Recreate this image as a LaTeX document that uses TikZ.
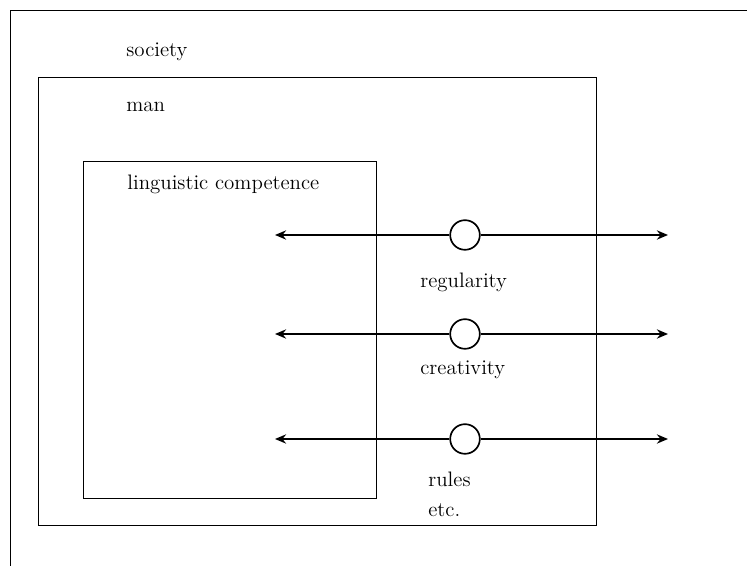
\documentclass[tikz,border=0pt]{standalone}
\usetikzlibrary{arrows.meta}
\begin{document}
\begin{tikzpicture}[x=0.54pt,y=-0.54pt,
  frame/.style={draw,line width=0.5pt},
  lbl/.style={anchor=base west,inner sep=0pt,font=\fontsize{11.3}{13}\selectfont},
  flow/.style={line width=0.9pt,-{Stealth[length=6pt,width=5pt]}},
  knot/.style={draw,circle,line width=0.9pt,inner sep=0pt,minimum size=16pt}]
  \useasboundingbox (0,0) rectangle (747,566);
  % society frame (runs past the page)
  \draw[frame] (10,566) -- (10,10) -- (747,10);
  \node[lbl] (soc) at (126,57) {society};
  % man
  \draw[frame] (38,77) rectangle (596,525);
  \node[lbl] (man) at (126,112) {man};
  % linguistic competence
  \draw[frame] (83,161) rectangle (376,498);
  \node[lbl] (lc) at (127,190) {linguistic competence};
  % three links through the boxes
  \foreach \n/\y in {a/235,b/334,c/439}{
    \node[knot] (k\n) at (465,\y) {};
    \coordinate (l\n) at (275,\y);
    \coordinate (r\n) at (668,\y);
    \draw[flow] (k\n) -- (l\n);
    \draw[flow] (k\n) -- (r\n);
  }
  \node[lbl] (reg) at (420,288) {regularity};
  \node[lbl] (cre) at (420,375) {creativity};
  \node[lbl] (rul) at (428,487) {rules};
  \node[lbl] (etc) at (428,517) {etc.};
\end{tikzpicture}
\end{document}
